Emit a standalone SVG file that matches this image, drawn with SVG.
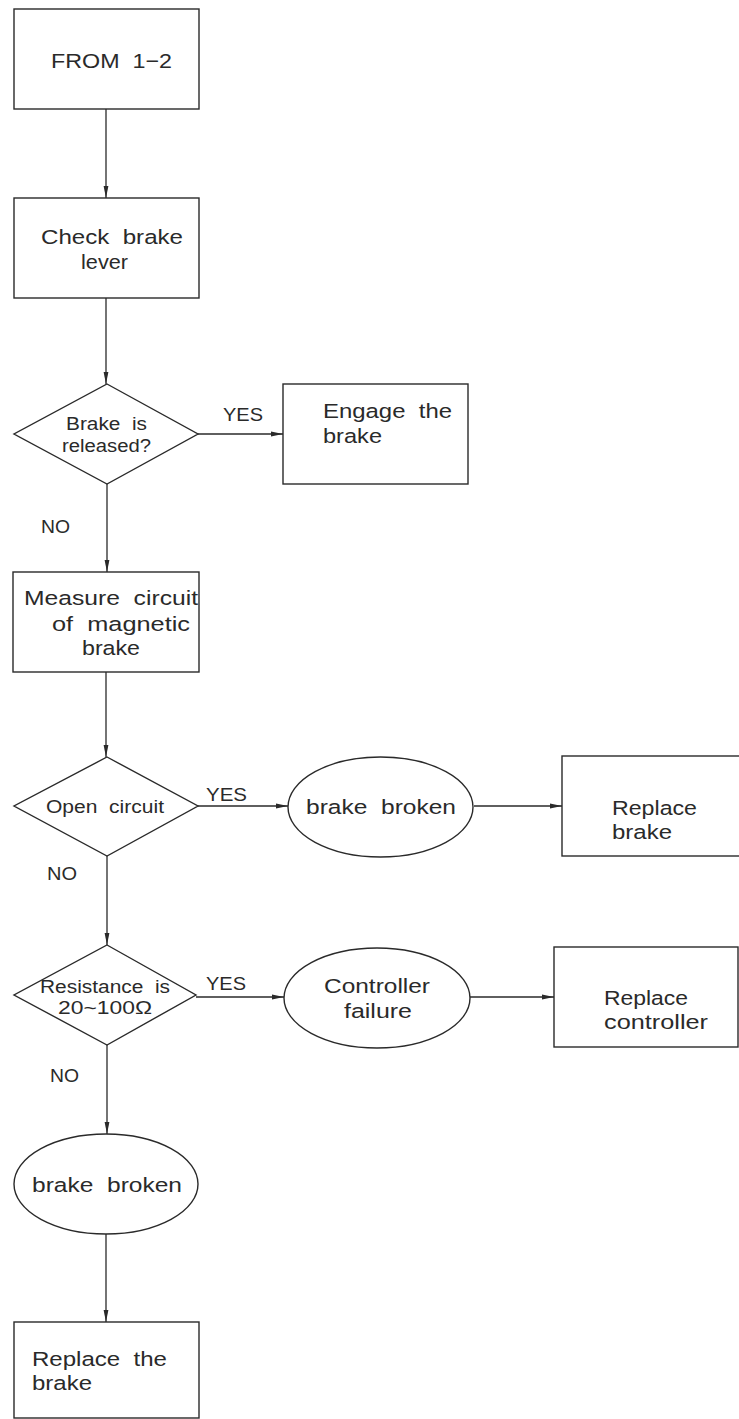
<svg xmlns="http://www.w3.org/2000/svg" width="739" height="1419" viewBox="0 0 739 1419">
  <style>
    .shape { fill: #ffffff; stroke: #2a2a2a; stroke-width: 1.4; }
    .link { fill: none; stroke: #2a2a2a; stroke-width: 1.3; }
    text { font-family: "Liberation Sans", Arial, sans-serif; fill: #2a2a2a; white-space: pre; }
    .t20 { font-size: 20.5px; }
    .t17 { font-size: 17.5px; }
    .lbl { font-size: 19px; }
  </style>
  <defs>
    <marker id="arrow" viewBox="0 0 12 6" refX="12" refY="3" markerWidth="12" markerHeight="6" markerUnits="userSpaceOnUse" orient="auto">
      <path d="M0,0.6 L12,3 L0,5.4 Z" fill="#2a2a2a"/>
    </marker>
  </defs>

  <rect width="739" height="1419" fill="#ffffff"/>

  <!-- connectors -->
  <g id="connectors">
    <line class="link" x1="106" y1="109" x2="106" y2="198" marker-end="url(#arrow)"/>
    <line class="link" x1="106" y1="298" x2="106" y2="384" marker-end="url(#arrow)"/>
    <line class="link" x1="198" y1="434" x2="283" y2="434" marker-end="url(#arrow)"/>
    <line class="link" x1="107" y1="484" x2="107" y2="572" marker-end="url(#arrow)"/>
    <line class="link" x1="106" y1="672" x2="106" y2="757" marker-end="url(#arrow)"/>
    <line class="link" x1="198" y1="806" x2="288" y2="806" marker-end="url(#arrow)"/>
    <line class="link" x1="474" y1="806" x2="562" y2="806" marker-end="url(#arrow)"/>
    <line class="link" x1="107" y1="856" x2="107" y2="945" marker-end="url(#arrow)"/>
    <line class="link" x1="196" y1="997" x2="284" y2="997" marker-end="url(#arrow)"/>
    <line class="link" x1="470" y1="997" x2="554" y2="997" marker-end="url(#arrow)"/>
    <line class="link" x1="107" y1="1045" x2="107" y2="1134" marker-end="url(#arrow)"/>
    <line class="link" x1="106" y1="1234" x2="106" y2="1322" marker-end="url(#arrow)"/>
  </g>

  <!-- branch labels -->
  <g id="labels">
    <text class="lbl" x="223" y="421" textLength="40" lengthAdjust="spacingAndGlyphs">YES</text>
    <text class="lbl" x="41" y="533" textLength="29" lengthAdjust="spacingAndGlyphs">NO</text>
    <text class="lbl" x="206" y="801" textLength="41" lengthAdjust="spacingAndGlyphs">YES</text>
    <text class="lbl" x="47" y="880" textLength="30" lengthAdjust="spacingAndGlyphs">NO</text>
    <text class="lbl" x="206" y="990" textLength="40" lengthAdjust="spacingAndGlyphs">YES</text>
    <text class="lbl" x="50" y="1082" textLength="29" lengthAdjust="spacingAndGlyphs">NO</text>
  </g>

  <g id="from-1-2">
    <rect class="shape" x="14" y="9" width="185" height="100"/>
    <text class="t20" x="51" y="68" textLength="121" lengthAdjust="spacingAndGlyphs">FROM  1−2</text>
  </g>

  <g id="check-brake-lever">
    <rect class="shape" x="14" y="198" width="185" height="100"/>
    <text class="t20" x="41" y="244" textLength="142" lengthAdjust="spacingAndGlyphs">Check  brake</text>
    <text class="t20" x="81" y="269" textLength="47" lengthAdjust="spacingAndGlyphs">lever</text>
  </g>

  <g id="brake-released">
    <polygon class="shape" points="107,384 198,434 107,484 14,434"/>
    <text class="t17" x="66" y="430" textLength="81" lengthAdjust="spacingAndGlyphs">Brake  is</text>
    <text class="t17" x="62" y="452" textLength="89" lengthAdjust="spacingAndGlyphs">released?</text>
  </g>

  <g id="engage-brake">
    <rect class="shape" x="283" y="384" width="185" height="100"/>
    <text class="t20" x="323" y="418" textLength="129" lengthAdjust="spacingAndGlyphs">Engage  the</text>
    <text class="t20" x="323" y="443" textLength="59" lengthAdjust="spacingAndGlyphs">brake</text>
  </g>

  <g id="measure-circuit">
    <rect class="shape" x="13" y="572" width="186" height="100"/>
    <text class="t20" x="24" y="605" textLength="174" lengthAdjust="spacingAndGlyphs">Measure  circuit</text>
    <text class="t20" x="52" y="631" textLength="138" lengthAdjust="spacingAndGlyphs">of  magnetic</text>
    <text class="t20" x="82" y="655" textLength="58" lengthAdjust="spacingAndGlyphs">brake</text>
  </g>

  <g id="open-circuit">
    <polygon class="shape" points="107,757 198,806 107,856 14,806"/>
    <text class="t17" x="46" y="813" textLength="118" lengthAdjust="spacingAndGlyphs">Open  circuit</text>
  </g>

  <g id="brake-broken-1">
    <ellipse class="shape" cx="380.5" cy="807" rx="92.5" ry="50"/>
    <text class="t20" x="306" y="814" textLength="150" lengthAdjust="spacingAndGlyphs">brake  broken</text>
  </g>

  <g id="replace-brake">
    <rect class="shape" x="562" y="756" width="180" height="100"/>
    <text class="t20" x="612" y="815" textLength="85" lengthAdjust="spacingAndGlyphs">Replace</text>
    <text class="t20" x="612" y="839" textLength="60" lengthAdjust="spacingAndGlyphs">brake</text>
  </g>

  <g id="resistance-check">
    <polygon class="shape" points="107,945 196,995 107,1045 14,995"/>
    <text class="t17" x="40" y="993" textLength="130" lengthAdjust="spacingAndGlyphs">Resistance  is</text>
    <text class="t17" x="58" y="1014" textLength="94" lengthAdjust="spacingAndGlyphs">20~100Ω</text>
  </g>

  <g id="controller-failure">
    <ellipse class="shape" cx="377" cy="998" rx="93" ry="50"/>
    <text class="t20" x="324" y="993" textLength="106" lengthAdjust="spacingAndGlyphs">Controller</text>
    <text class="t20" x="344" y="1018" textLength="68" lengthAdjust="spacingAndGlyphs">failure</text>
  </g>

  <g id="replace-controller">
    <rect class="shape" x="554" y="947" width="184" height="100"/>
    <text class="t20" x="604" y="1005" textLength="84" lengthAdjust="spacingAndGlyphs">Replace</text>
    <text class="t20" x="604" y="1029" textLength="104" lengthAdjust="spacingAndGlyphs">controller</text>
  </g>

  <g id="brake-broken-2">
    <ellipse class="shape" cx="106" cy="1184" rx="92" ry="50"/>
    <text class="t20" x="32" y="1192" textLength="150" lengthAdjust="spacingAndGlyphs">brake  broken</text>
  </g>

  <g id="replace-the-brake">
    <rect class="shape" x="14" y="1322" width="185" height="96"/>
    <text class="t20" x="32" y="1366" textLength="135" lengthAdjust="spacingAndGlyphs">Replace  the</text>
    <text class="t20" x="32" y="1390" textLength="60" lengthAdjust="spacingAndGlyphs">brake</text>
  </g>
</svg>
